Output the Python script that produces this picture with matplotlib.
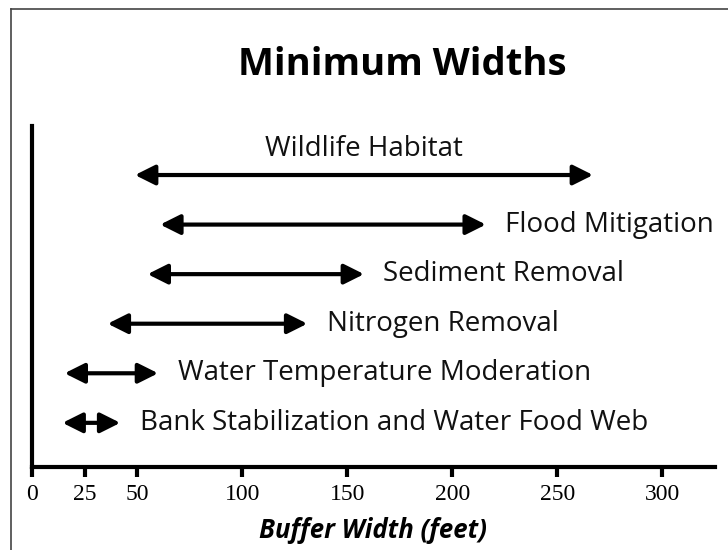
import matplotlib as mpl
mpl.use('Agg')
import matplotlib.pyplot as plt
from matplotlib.lines import Line2D

# Buffer uses, top row first, with minimum width ranges (feet).
functions = ['Wildlife Habitat', 'Flood Mitigation', 'Sediment Removal',
             'Nitrogen Removal', 'Water Temperature Moderation',
             'Bank Stabilization and Water Food Web']
width_min = [49, 61, 55, 36, 15.5, 14.5]
width_max = [267, 216, 158, 131, 60, 42]
tick_vals = [0, 25, 50, 100, 150, 200, 250, 300]

SANS = ['Open Sans', 'DejaVu Sans']
SERIF = ['Liberation Serif', 'DejaVu Serif']

fig = plt.figure(figsize=(7.28, 5.5), dpi=100)
ax = fig.add_axes([0.044, 0.151, 0.938, 0.620])

n = len(functions)
for i, name in enumerate(functions):
    y = n - 1 - i
    ax.annotate('', xy=(width_max[i], y), xytext=(width_min[i], y),
                arrowprops=dict(arrowstyle='<|-|>', color='black', lw=3,
                                mutation_scale=30, shrinkA=0, shrinkB=0))
    if i == 0:
        # Label sits above the widest arrow.
        ax.annotate(name, xy=((width_min[i] + width_max[i]) / 2, y),
                    xytext=(0, 19), textcoords='offset points',
                    ha='center', va='center', fontsize=20, family=SANS,
                    color='#111111', annotation_clip=False)
    else:
        ax.annotate(name, xy=(width_max[i], y), xytext=(14, 0),
                    textcoords='offset points', ha='left', va='center',
                    fontsize=20, family=SANS, color='#111111',
                    annotation_clip=False)

ax.set_xlim(0, 325)
ax.set_ylim(-0.89, n - 0.01)
ax.set_yticks([])
ax.set_xticks(tick_vals)
ax.set_xticklabels([str(v) for v in tick_vals], family=SERIF, fontsize=17)
ax.tick_params(axis='x', length=7, width=3, pad=5)

ax.spines['top'].set_visible(False)
ax.spines['right'].set_visible(False)
ax.spines['left'].set_linewidth(3)
ax.spines['bottom'].set_linewidth(3)

ax.set_xlabel('Buffer Width (feet)', family=SANS, fontsize=18.5,
              fontweight='bold', style='italic', labelpad=9)
fig.text(0.553, 0.882, 'Minimum Widths', ha='center', va='center',
         family=SANS, fontsize=27.5, fontweight='bold')

# Picture frame on the left and top edges.
fig.add_artist(Line2D([0.0145, 0.0145], [0, 0.984], color='#444444',
                      lw=1.2, transform=fig.transFigure))
fig.add_artist(Line2D([0.0145, 1], [0.984, 0.984], color='#444444',
                      lw=1.2, transform=fig.transFigure))

fig.savefig('out.png', dpi=100, facecolor='white')
